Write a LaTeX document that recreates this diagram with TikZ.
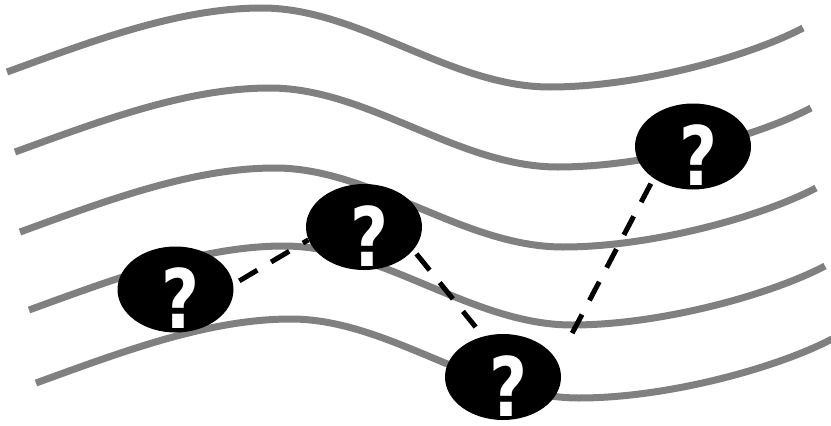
\documentclass[tikz,border=0pt]{standalone}
\usepackage{fontspec}
\newfontfamily\qfont{DejaVu Sans}
\usetikzlibrary{shapes.geometric}
\definecolor{vague}{RGB}{128,128,128}

\begin{document}
\begin{tikzpicture}[x=1pt,y=-1pt,line cap=butt,
	onde/.style={draw=vague,line width=7pt},
	bulle/.style={ellipse,fill=black,minimum width=116pt,minimum height=86pt,inner sep=0pt},
	point/.style={text=white,font=\qfont\bfseries\fontsize{82}{82}\selectfont,inner sep=0pt,xscale=0.8},
	lien/.style={black,line width=5pt,dash pattern=on 21pt off 16pt}]
		\useasboundingbox (0,0) rectangle (831,426);
		\foreach \dx/\dy in {0/0,8/80,13/160,22/238,29/311}
			\draw[onde,shift={(\dx,\dy)}] (7,72) .. controls (95,40) and (180,8) .. (262,8)
				.. controls (360,8) and (450,87) .. (550,87) .. controls (640,87) and (750,56) .. (803,28);
		\foreach \n/\x/\y in {1/175.5/289.5,2/364/227,3/503/377,4/693/146.5}{
			\node[bulle] (b\n) at (\x,\y) {};
			\node[point] (q\n) at (\x+5.5,\y+9) {?};}
		\draw[lien,shorten <=7pt] (b1.5)--(b2.193);
		\draw[lien,shorten <=5pt,shorten >=12pt] (b2.335)--(b3.116);
		\draw[lien,shorten <=32pt,shorten >=6pt] (b3.16)--(b4.219);
\end{tikzpicture}
\end{document}
